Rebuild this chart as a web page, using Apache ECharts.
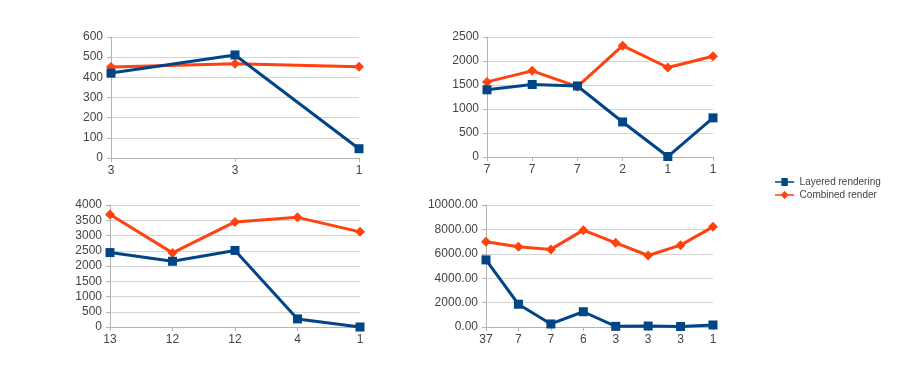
<!DOCTYPE html>
<html><head><meta charset="utf-8">
<script src="https://cdn.jsdelivr.net/npm/echarts@6/dist/echarts.min.js"></script>
<style>html,body{margin:0;padding:0;background:#fff}#c{width:914px;height:368px}</style>
</head><body><div id="c"></div>
<script>
var cats1 = ['3','3','1'];
var layered1 = [421, 511, 46];
var combined1 = [451, 467, 452];

var cats2 = ['7','7','7','2','1','1'];
var layered2 = [1400, 1510, 1480, 730, 10, 815];
var combined2 = [1565, 1795, 1465, 2320, 1865, 2100];

var cats3 = ['13','12','12','4','1'];
var layered3 = [2440, 2155, 2510, 265, 0];
var combined3 = [3690, 2430, 3445, 3595, 3120];

var cats4 = ['37','7','7','6','3','3','3','1'];
var layered4 = [5500, 1865, 250, 1250, 55, 80, 40, 165];
var combined4 = [6990, 6580, 6360, 7940, 6900, 5860, 6710, 8210];

var seriesNames = ['Layered rendering', 'Combined render'];
var BLUE = '#004586', RED = '#ff420e';

var grids = [
  {left:111, top:37, width:248, height:121},
  {left:487, top:37, width:226, height:120},
  {left:110, top:205, width:250, height:122},
  {left:486, top:205, width:227, height:122}
];
var yCfg = [
  {max:600, interval:100, fmt:function(v){return String(v);}},
  {max:2500, interval:500, fmt:function(v){return String(v);}},
  {max:4000, interval:500, fmt:function(v){return String(v);}},
  {max:10000, interval:2000, fmt:function(v){return v.toFixed(2);}}
];
var catsAll = [cats1, cats2, cats3, cats4];
var layAll = [layered1, layered2, layered3, layered4];
var comAll = [combined1, combined2, combined3, combined4];

var lbl = {color:'#444', fontSize:12, fontFamily:'Liberation Sans, Arial, sans-serif'};
var xAxes = [], yAxes = [], series = [];
for (var i = 0; i < 4; i++) {
  xAxes.push({type:'category', gridIndex:i, data:catsAll[i], boundaryGap:false,
    axisLine:{lineStyle:{color:'#b3b3b3', width:1}},
    axisTick:{show:true, length:4, lineStyle:{color:'#b3b3b3'}},
    axisLabel:Object.assign({margin:7}, lbl),
    splitLine:{show:false}});
  yAxes.push({type:'value', gridIndex:i, min:0, max:yCfg[i].max, interval:yCfg[i].interval,
    axisLine:{show:true, lineStyle:{color:'#b3b3b3', width:1}},
    axisTick:{show:true, length:4, lineStyle:{color:'#b3b3b3'}},
    axisLabel:Object.assign({margin:8, formatter:yCfg[i].fmt}, lbl),
    splitLine:{show:true, lineStyle:{color:'#d4d4d4', width:1}}});
  series.push({name:seriesNames[0], type:'line', xAxisIndex:i, yAxisIndex:i, data:layAll[i],
    symbol:'rect', symbolSize:9, lineStyle:{color:BLUE, width:3}, itemStyle:{color:BLUE},
    animation:false, z:3});
  series.push({name:seriesNames[1], type:'line', xAxisIndex:i, yAxisIndex:i, data:comAll[i],
    symbol:'diamond', symbolSize:10, lineStyle:{color:RED, width:3}, itemStyle:{color:RED},
    animation:false, z:2});
}

var chart = echarts.init(document.getElementById('c'), null, {renderer:'canvas'});
chart.setOption({
  backgroundColor:'#fff',
  animation:false,
  grid:grids, xAxis:xAxes, yAxis:yAxes, series:series,
  legend:{data:[
      {name:seriesNames[0], icon:'path://M0,4h8v-4h8v4h8v2h-8v4h-8v-4h-8z'},
      {name:seriesNames[1], icon:'path://M0,4h8l4,-4l4,4h8v2h-8l-4,4l-4,-4h-8z'}],
    orient:'vertical', left:770, top:172, itemWidth:24, itemHeight:8, itemGap:3,
    textStyle:{color:'#444', fontSize:10, fontFamily:'Liberation Sans, Arial, sans-serif', padding:[0,0,0,-2]}}
});
</script></body></html>
